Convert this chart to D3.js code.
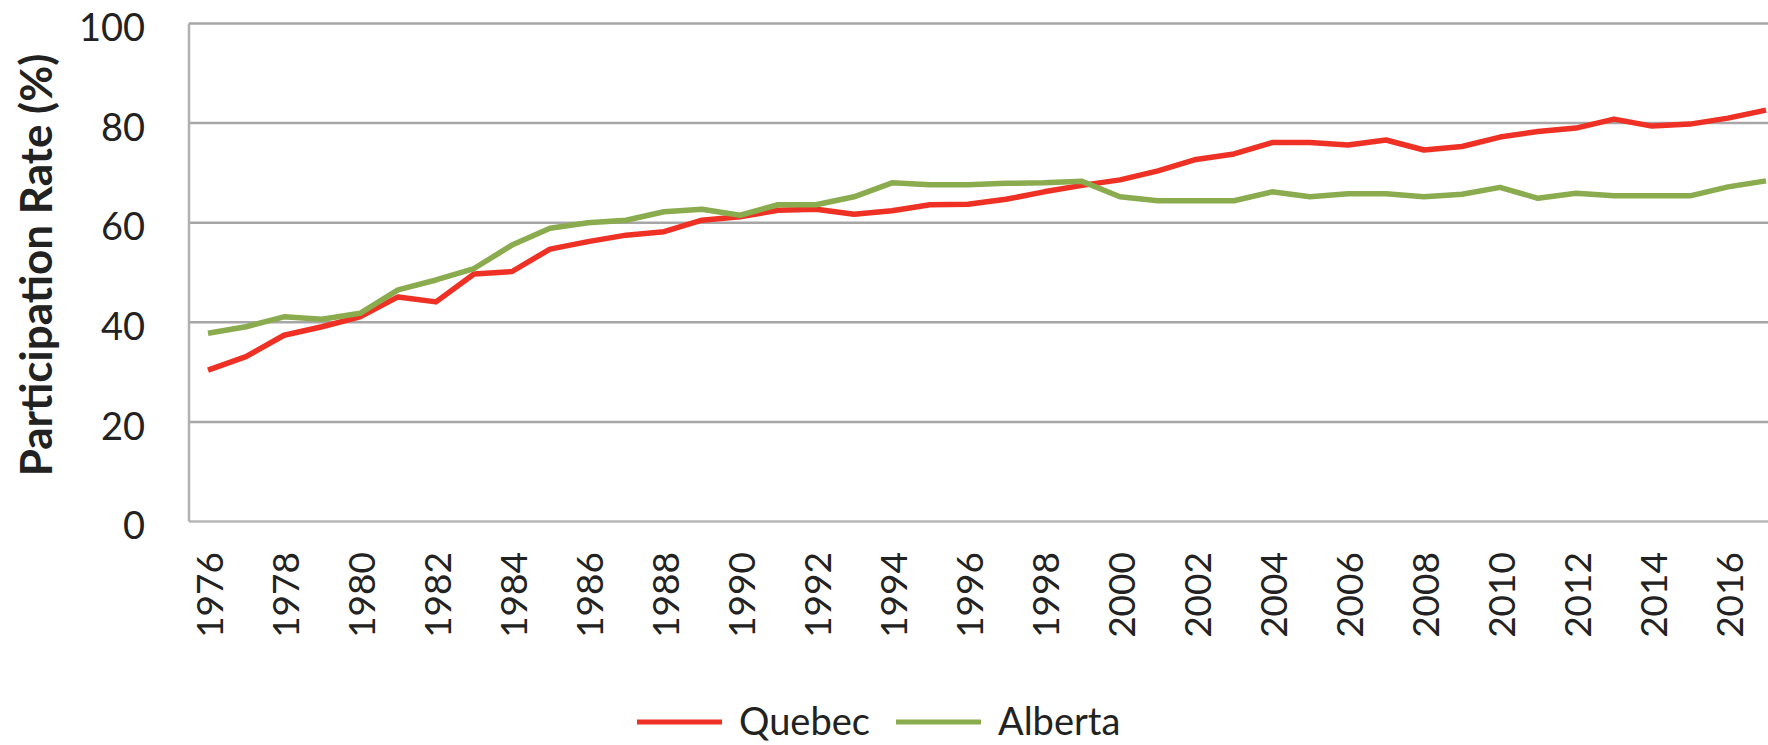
<!DOCTYPE html>
<html>
<head>
<meta charset="utf-8">
<script src="https://cdn.jsdelivr.net/npm/d3@7"></script>
<style>
  html, body { margin: 0; padding: 0; background: #ffffff; }
  svg { display: block; }
  text { font-family: Lato, "Open Sans", sans-serif; fill: #222; }
</style>
</head>
<body>
<svg id="chart" width="1768" height="745"></svg>
<script>
const years = d3.range(1976, 2018).map(String);
const xTickLabels = d3.range(1976, 2017, 2).map(String);
const yTicks = [0, 20, 40, 60, 80, 100];
const quebec = [30.4, 33.1, 37.4, 39.1, 41.1, 45.1, 44.1, 49.7, 50.2, 54.7, 56.2, 57.5,
  58.2, 60.5, 61.2, 62.5, 62.7, 61.7, 62.4, 63.6, 63.7, 64.7, 66.2, 67.5,
  68.6, 70.4, 72.7, 73.8, 76.1, 76.1, 75.6, 76.6, 74.6, 75.3, 77.2, 78.3,
  79.0, 80.8, 79.4, 79.8, 81.0, 82.6];
const alberta = [37.8, 39.1, 41.1, 40.6, 41.8, 46.5, 48.5, 50.8, 55.5, 58.9, 60.0, 60.5,
  62.2, 62.7, 61.5, 63.6, 63.6, 65.2, 68.0, 67.6, 67.6, 67.9, 68.0, 68.3,
  65.2, 64.4, 64.4, 64.4, 66.2, 65.2, 65.8, 65.8, 65.2, 65.7, 67.1, 64.9,
  65.9, 65.4, 65.4, 65.4, 67.2, 68.4];
const seriesNames = ["Quebec", "Alberta"];
const seriesColors = ["#ee3124", "#8aab4e"];

(function () {
const svg = d3.select("#chart");
const W = 1768;
const plotLeft = 189, plotTop = 23.5, plotBottom = 521.5, step = 38;

const x = d3.scaleBand().domain(years).range([plotLeft, plotLeft + years.length * step]).padding(0);
const y = d3.scaleLinear().domain([0, 100]).range([plotBottom, plotTop]);
const cx = d => x(d) + x.bandwidth() / 2;

// gridlines
svg.append("g").selectAll("line").data(yTicks).join("line")
  .attr("x1", plotLeft).attr("x2", W)
  .attr("y1", d => y(d)).attr("y2", d => y(d))
  .attr("stroke", d => d === 0 ? "#b8b8b8" : "#a6a6a6")
  .attr("stroke-width", 2.5);

// left axis line
svg.append("line")
  .attr("x1", plotLeft).attr("x2", plotLeft)
  .attr("y1", y(100)).attr("y2", y(0))
  .attr("stroke", "#b0b0b0").attr("stroke-width", 2.5);

// y tick labels
svg.append("g").selectAll("text").data(yTicks).join("text")
  .attr("x", 145).attr("y", d => y(d) + 4)
  .attr("dy", "0.36em")
  .attr("text-anchor", "end")
  .style("font-size", "38px")
  .text(d => d);

// x tick labels
svg.append("g").selectAll("text").data(xTickLabels).join("text")
  .attr("transform", d => `translate(${cx(d) + 2},552) rotate(-90)`)
  .attr("dy", "0.36em")
  .attr("text-anchor", "end")
  .style("font-size", "37px")
  .text(d => d);

// y title
svg.append("text")
  .attr("transform", `translate(52,265) rotate(-90)`)
  .attr("text-anchor", "middle")
  .style("font-size", "44px")
  .style("font-weight", "bold")
  .text("Participation Rate (%)");

// lines
const line = d3.line().x((d, i) => cx(years[i])).y(d => y(d));
[quebec, alberta].forEach((s, k) => {
  svg.append("path")
    .datum(s)
    .attr("d", line)
    .attr("fill", "none")
    .attr("stroke", seriesColors[k])
    .attr("stroke-width", 5.5)
    .attr("stroke-linejoin", "round");
});

// legend
const legendX = [637, 896];
seriesNames.forEach((name, k) => {
  const g = svg.append("g").attr("transform", `translate(${legendX[k]},722)`);
  g.append("line").attr("x1", 0).attr("x2", 85).attr("y1", 0).attr("y2", 0)
    .attr("stroke", seriesColors[k]).attr("stroke-width", 5);
  g.append("text").attr("x", 102).attr("y", 0).attr("dy", "0.35em")
    .style("font-size", "38px").text(name);
});
})();
</script>
</body>
</html>
